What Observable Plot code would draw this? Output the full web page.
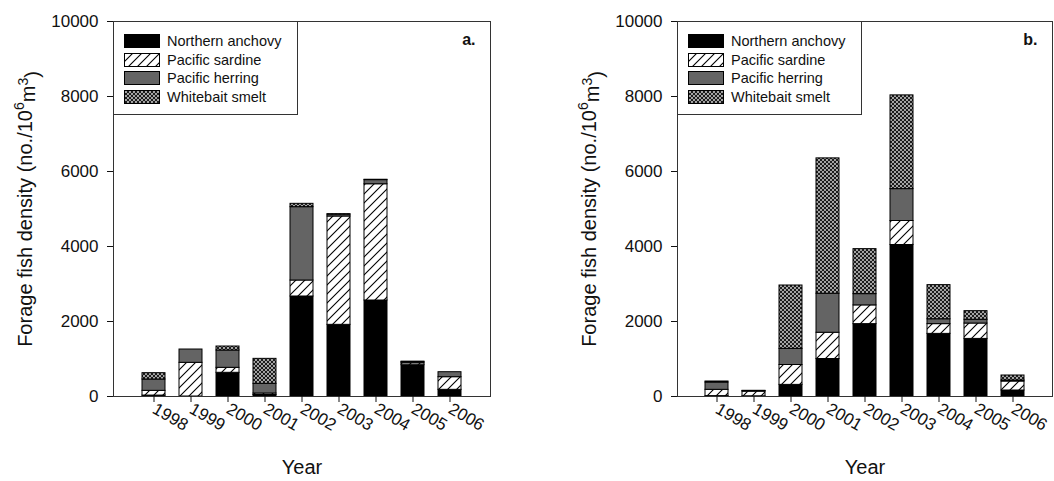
<!DOCTYPE html>
<html>
<head>
<meta charset="utf-8">
<script src="https://cdn.jsdelivr.net/npm/d3@7"></script>
<script src="https://cdn.jsdelivr.net/npm/@observablehq/plot@0.6"></script>
<style>
  body { margin: 0; background: #fff; font-family: "Liberation Sans", Arial, sans-serif; }
  #wrap { display: flex; width: 1054px; height: 481px; }
  .panel { position: relative; width: 527px; height: 481px; }
  .legend { position: absolute; top: 21px; width: 185px; height: 94px; box-sizing: border-box;
            border: 1px solid #333; background: #fff; }
  .row { position: absolute; left: 0; height: 14px; width: 100%; }
  .row svg { position: absolute; left: 10px; top: 0; }
  .row span { position: absolute; left: 53px; top: -2px; font-size: 14.5px; color: #111; white-space: nowrap; line-height: 18px; }
</style>
</head>
<body>
<svg width="0" height="0" style="position:absolute">
  <defs>
    <pattern id="hatch" patternUnits="userSpaceOnUse" width="9" height="9">
      <rect width="9" height="9" fill="#fff"></rect>
      <path d="M0,9 L9,0 M-2,2 L2,-2 M7,11 L11,7" stroke="#000" stroke-width="1.1"></path>
    </pattern>
    <pattern id="smelt" patternUnits="userSpaceOnUse" width="4" height="4">
      <rect width="4" height="4" fill="#1c1c1c"></rect>
      <circle cx="0" cy="0" r="1.05" fill="#c8c8c8"></circle>
      <circle cx="4" cy="0" r="1.05" fill="#c8c8c8"></circle>
      <circle cx="0" cy="4" r="1.05" fill="#c8c8c8"></circle>
      <circle cx="4" cy="4" r="1.05" fill="#c8c8c8"></circle>
      <circle cx="2" cy="2" r="1.05" fill="#c8c8c8"></circle>
    </pattern>
  </defs>
</svg>
<div id="wrap">
  <div class="panel" id="pa"></div>
  <div class="panel" id="pb"></div>
</div>
<script>
const years = ["1998", "1999", "2000", "2001", "2002", "2003", "2004", "2005", "2006"];
const species = ["Northern anchovy", "Pacific sardine", "Pacific herring", "Whitebait smelt"];
const yTicks = [0, 2000, 4000, 6000, 8000, 10000];
const yTitle = "Forage fish density (no./10⁶m³)";
const xTitle = "Year";

// Panel a
const anchovyA = [25, 0, 632, 40, 2667, 1911, 2560, 835, 178];
const sardineA = [126, 898, 133, 40, 426, 2889, 3100, 50, 337];
const herringA = [302, 355, 462, 258, 1956, 50, 110, 30, 133];
const smeltA   = [169, 0, 106, 666, 89, 12, 10, 15, 0];

// Panel b
const anchovyB = [10, 5, 310, 1000, 1930, 4040, 1670, 1536, 160];
const sardineB = [168, 125, 530, 700, 500, 640, 260, 410, 240];
const herringB = [195, 15, 430, 1040, 300, 850, 130, 100, 27];
const smeltB   = [27, 7, 1690, 3610, 1200, 2500, 910, 230, 133];

const fills = ["#000000", "url(#hatch)", "#646464", "url(#smelt)"];

function toRows(series) {
  const rows = [];
  years.forEach((yr, i) => species.forEach((sp, j) => rows.push({year: yr, species: sp, value: series[j][i]})));
  return rows;
}

function makePanel(series, tag, ml, mr) {
  const data = toRows(series);
  const svg = Plot.plot({
    width: 527, height: 481,
    marginLeft: ml, marginRight: mr, marginTop: 21, marginBottom: 85,
    style: {fontFamily: "'Liberation Sans', Arial, sans-serif", fontSize: "17px", color: "#111", background: "transparent"},
    x: {type: "band", domain: years, paddingInner: 0.39, paddingOuter: 0.695, label: null},
    y: {domain: [0, 10000], label: null},
    color: {domain: species, range: fills},
    marks: [
      Plot.barY(data, {x: "year", y: "value", fill: "species", stroke: "#000", strokeWidth: 1}),
      Plot.frame({stroke: "#333"}),
      Plot.axisY({ticks: yTicks, tickSize: 6, tickPadding: 9, fontSize: 17, label: null, tickFormat: d => String(d)}),
      Plot.axisX({tickRotate: 30, tickSize: 6, tickPadding: 5, fontSize: 17, label: null}),
      Plot.text([yTitle], {frameAnchor: "left", rotate: -90, dx: -88, textAnchor: "middle", fontSize: 20, text: d => d}),
      Plot.text([xTitle], {frameAnchor: "bottom", dy: 77, textAnchor: "middle", fontSize: 20, text: d => d}),
      Plot.text([tag], {frameAnchor: "top-right", dx: -15, dy: 12, textAnchor: "end", fontWeight: "bold", fontSize: 16, text: d => d})
    ]
  });
  // render the superscripts of the y title as raised tspans
  d3.select(svg).selectAll("text").each(function() {
    if (this.textContent === yTitle) {
      const t = d3.select(this);
      t.text(null);
      t.append("tspan").text("Forage fish density (no./10");
      t.append("tspan").attr("dy", "-0.55em").attr("font-size", "0.7em").text("6");
      t.append("tspan").attr("dy", "0.55em").text("m");
      t.append("tspan").attr("dy", "-0.55em").attr("font-size", "0.7em").text("3");
      t.append("tspan").attr("dy", "0.55em").text(")");
    }
  });
  return svg;
}

function makeLegend(left) {
  const box = document.createElement("div");
  box.className = "legend";
  box.style.left = left + "px";
  species.forEach((sp, i) => {
    const row = document.createElement("div");
    row.className = "row";
    row.style.top = (12 + i * 18.7) + "px";
    row.innerHTML = `<svg width="36" height="14"><rect x="0.5" y="0.5" width="35" height="13" fill="${fills[i]}" stroke="#000" stroke-width="1"></rect></svg><span>${sp}</span>`;
    box.appendChild(row);
  });
  return box;
}

const pa = document.getElementById("pa");
pa.appendChild(makePanel([anchovyA, sardineA, herringA, smeltA], "a.", 113, 37));
pa.appendChild(makeLegend(113));

const pb = document.getElementById("pb");
pb.appendChild(makePanel([anchovyB, sardineB, herringB, smeltB], "b.", 150, 2));
pb.appendChild(makeLegend(150));
</script>
</body>
</html>
